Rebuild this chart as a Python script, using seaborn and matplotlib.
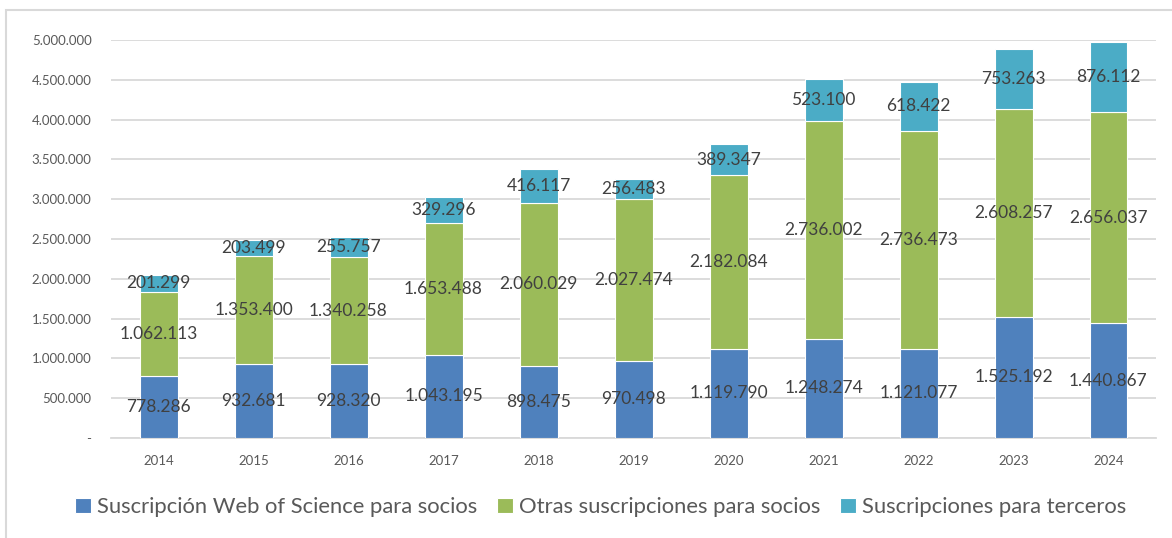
import matplotlib
matplotlib.use("Agg")
import matplotlib.pyplot as plt
import seaborn as sns
import pandas as pd
import numpy as np
from matplotlib.patches import Rectangle
from matplotlib.ticker import FuncFormatter, MultipleLocator

years = ["2014", "2015", "2016", "2017", "2018", "2019", "2020", "2021", "2022", "2023", "2024"]
wos_socios = [778286, 932681, 928320, 1043195, 898475, 970498, 1119790, 1248274, 1121077, 1525192, 1440867]
otras_socios = [1062113, 1353400, 1340258, 1653488, 2060029, 2027474, 2182084, 2736002, 2736473, 2608257, 2656037]
terceros = [201299, 203499, 255757, 329296, 416117, 256483, 389347, 523100, 618422, 753263, 876112]

series_names = ["Suscripción Web of Science para socios",
                "Otras suscripciones para socios",
                "Suscripciones para terceros"]
colors = ["#4F81BD", "#9BBB59", "#4BACC6"]

sns.set_theme(style="white")
plt.rcParams["font.family"] = ["Lato", "DejaVu Sans"]

fig = plt.figure(figsize=(11.72, 5.38), dpi=100)
ax = fig.add_axes([111/1172, 1-438/538, (1156-111)/1172, (438-40)/538])

def fmt(v):
    return f"{int(round(v)):,}".replace(",", ".")

bottom = np.zeros(len(years))
for name, vals, col in zip(series_names, [wos_socios, otras_socios, terceros], colors):
    df = pd.DataFrame({"year": years, "value": vals})
    sns.barplot(data=df, x="year", y="value", order=years, color=col, width=0.4,
                bottom=bottom.copy(), ax=ax, label=name, edgecolor="white", linewidth=0.8,
                saturation=1, zorder=3)
    for i, v in enumerate(vals):
        ax.text(i, bottom[i] + v/2, fmt(v), ha="center", va="center",
                fontsize=12.5, color="#404040", zorder=5)
    bottom = bottom + np.array(vals)

if ax.get_legend() is not None:
    ax.get_legend().remove()

ax.set_xlim(-0.5, len(years) - 0.5)
ax.set_ylim(0, 5000000)
ax.yaxis.set_major_locator(MultipleLocator(500000))
ax.yaxis.set_major_formatter(FuncFormatter(lambda v, p: "-" if v == 0 else fmt(v)))
ax.grid(axis="y", color="#D9D9D9", linewidth=1.3, zorder=0)
ax.set_axisbelow(True)
for s in ["top", "right", "left"]:
    ax.spines[s].set_visible(False)
ax.spines["bottom"].set_color("#D9D9D9")
ax.spines["bottom"].set_linewidth(1.3)
ax.tick_params(axis="both", length=0, labelsize=9.5, colors="#595959")
ax.tick_params(axis="x", pad=12)
ax.tick_params(axis="y", pad=14)
ax.set_xlabel("")
ax.set_ylabel("")

handles, labels = ax.get_legend_handles_labels()
leg = fig.legend(handles, labels, loc="center", bbox_to_anchor=(601/1172, 1-507/538),
                 ncol=3, frameon=False, fontsize=15.8, handlelength=0.7, handleheight=0.7,
                 handletextpad=0.3, columnspacing=0.9, labelcolor="#595959")

fig.patches.append(Rectangle((6/1172, -0.1), 1.2, 1-10/538+0.1, transform=fig.transFigure,
                             fill=False, edgecolor="#D9D9D9", linewidth=1.5, zorder=0))

fig.savefig("out.png", dpi=100)
